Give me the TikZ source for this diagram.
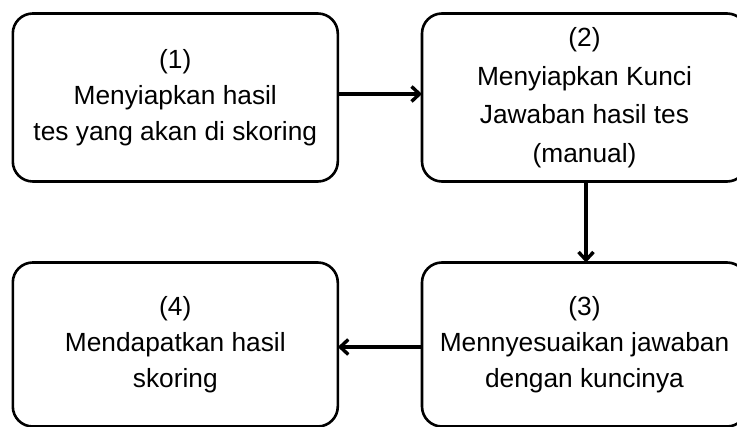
\documentclass[tikz,border=0pt]{standalone}
\usepackage{fontspec}
\setmainfont{Liberation Sans}
\usetikzlibrary{arrows.meta}
\begin{document}
\begin{tikzpicture}[x=1pt,y=-1pt,
  stepbox/.style={draw=black, line width=2.6pt, rounded corners=20pt,
    minimum width=325pt, align=center, inner sep=0pt, outer sep=0pt,
    font=\fontsize{26.3}{36}\selectfont},
  flow/.style={line width=3.4pt, -{Straight Barb[length=8pt,width=15pt]}, line join=round, line cap=butt}
]
\useasboundingbox (0,0) rectangle (737,427);
\clip (0,0) rectangle (737,427);
\node[stepbox, minimum height=168pt] (b1) at (175.3,97.5)
  {(1)\\Menyiapkan hasil\\tes yang akan di skoring};
\node[stepbox, minimum height=168pt, font=\fontsize{26.3}{38.5}\selectfont] (b2) at (584.5,97.5)
  {(2)\\Menyiapkan Kunci\\Jawaban hasil tes\\(manual)};
\node[stepbox, minimum height=164pt] (b3) at (584.5,344.5)
  {(3)\\Mennyesuaikan jawaban\\dengan kuncinya};
\node[stepbox, minimum height=164pt] (b4) at (175.3,344.5)
  {(4)\\Mendapatkan hasil\\skoring};
\draw[flow] ([yshift=3.5pt]b1.east) -- ([yshift=3.5pt]b2.west);
\draw[flow] ([xshift=1.5pt]b2.south) -- ([xshift=1.5pt]b3.north);
\draw[flow] ([yshift=-2.5pt]b3.west) -- ([yshift=-2.5pt]b4.east);
\end{tikzpicture}
\end{document}
